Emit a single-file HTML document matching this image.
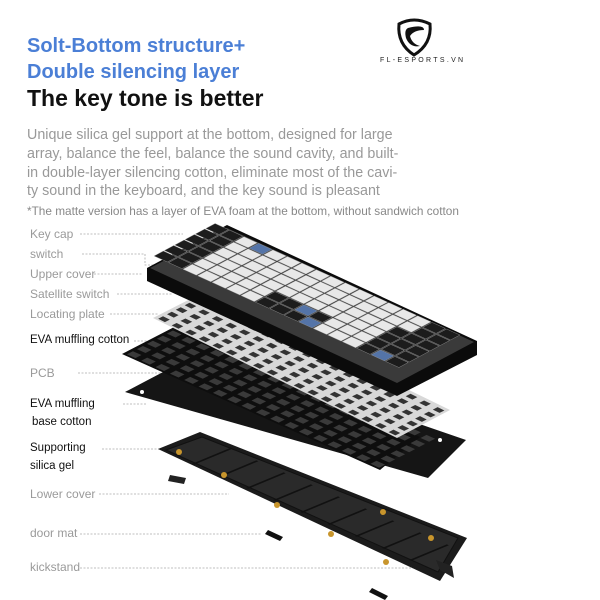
<!DOCTYPE html>
<html><head><meta charset="utf-8"><style>
html,body{margin:0;padding:0;background:#fff;}
#w{position:relative;width:600px;height:600px;overflow:hidden;font-family:"Liberation Sans",sans-serif;}
.t{position:absolute;white-space:nowrap;}
.lb{position:absolute;font-size:12px;color:#9a9a9a;white-space:nowrap;}
.lk{position:absolute;font-size:11.5px;color:#111;white-space:nowrap;}
</style></head><body><div id="w">
<div class="t" style="left:27px;top:33px;font-size:20px;font-weight:bold;color:#4b7fd6;line-height:26px;">Solt-Bottom structure+<br>Double silencing layer</div>
<div class="t" style="left:27px;top:85px;font-size:23px;font-weight:bold;color:#111;">The key tone is better</div>
<div class="t" style="left:27px;top:126px;font-size:14.3px;color:#999;line-height:18.8px;">Unique silica gel support at the bottom, designed for large<br>array, balance the feel, balance the sound cavity, and built-<br>in double-layer silencing cotton, eliminate most of the cavi-<br>ty sound in the keyboard, and the key sound is pleasant</div>
<div class="t" style="left:27px;top:204px;font-size:11.8px;color:#888;">*The matte version has a layer of EVA foam at the bottom, without sandwich cotton</div>
<div class="t" style="left:380px;top:57px;font-size:7px;letter-spacing:2.3px;color:#222;">FL-ESPORTS.VN</div>

<div class="lb" style="left:30px;top:227px">Key cap</div>
<div class="lb" style="left:30px;top:247px">switch</div>
<div class="lb" style="left:30px;top:267px">Upper cover</div>
<div class="lb" style="left:30px;top:287px">Satellite switch</div>
<div class="lb" style="left:30px;top:307px">Locating plate</div>
<div class="lk" style="left:30px;top:334px">EVA muffling cotton</div>
<div class="lb" style="left:30px;top:366px">PCB</div>
<div class="lk" style="left:30px;top:398px">EVA muffling</div>
<div class="lk" style="left:32px;top:416px">base cotton</div>
<div class="lk" style="left:30px;top:442px">Supporting</div>
<div class="lk" style="left:30px;top:460px">silica gel</div>
<div class="lb" style="left:30px;top:487px">Lower cover</div>
<div class="lb" style="left:30px;top:526px">door mat</div>
<div class="lb" style="left:30px;top:560px">kickstand</div>

<svg id="s" width="600" height="600" style="position:absolute;left:0;top:0">
<path d="M399,24 Q414,16 430,24 Q432,44 414,55 Q397,44 399,24Z" fill="none" stroke="#111" stroke-width="3"/>
<path d="M408,28 Q424,24 424,30 Q414,30 410,36 Q412,44 420,46 Q410,48 406,38 Q404,30 408,28Z" fill="#111"/>
<g stroke="#aaa" stroke-width="0.8" stroke-dasharray="2,1.5" fill="none">
<line x1="80" y1="234" x2="183" y2="234"/>
<polyline points="82,254 145,254 145,265 160,265"/>
<line x1="94" y1="274" x2="142" y2="274"/>
<line x1="117" y1="294" x2="173" y2="294"/>
<line x1="110" y1="314" x2="158" y2="314"/>
<line x1="134" y1="341" x2="160" y2="341"/>
<line x1="78" y1="373" x2="192" y2="373"/>
<line x1="123" y1="404" x2="146" y2="404"/>
<line x1="102" y1="449" x2="160" y2="449"/>
<line x1="99" y1="494" x2="229" y2="494"/>
<line x1="80" y1="534" x2="262" y2="534"/>
<line x1="80" y1="568" x2="450" y2="568"/>
</g>
<polygon points="158,449 200,432 467,538 440,581" fill="#1b1b1b"/>
<polygon points="166,450 202,437 458,538 438,572" fill="#2a2a2a" stroke="#111"/>
<g id="bc" stroke="#111" stroke-width="1.2"></g>
<g fill="#c8952c">
<circle cx="179" cy="452" r="3"/><circle cx="224" cy="475" r="3"/><circle cx="277" cy="505" r="3"/><circle cx="331" cy="534" r="3"/><circle cx="383" cy="512" r="3"/><circle cx="431" cy="538" r="3"/><circle cx="386" cy="562" r="3"/></g>
<polygon points="170,475 186,478 184,484 168,481" fill="#222"/>
<polygon points="268,530 283,537 280,541 265,534" fill="#111"/>
<polygon points="372,588 388,596 385,600 369,592" fill="#111"/>
<polygon points="436,560 452,566 454,578 440,570" fill="#222"/>
<polygon points="125,392 205,350 466,440 428,478" fill="#151515"/>
<g fill="#fff"><circle cx="142" cy="392" r="2"/><circle cx="190" cy="414" r="2"/><circle cx="440" cy="440" r="2"/><circle cx="404" cy="478" r="2"/></g>
<polygon id="pcb" points="122,354 182,323 420,437 380,470" fill="#0e0e0e"/>
<g id="ph" fill="#555"></g>
<polygon points="153,318 206,291 450,410 397,438" fill="#d8d8d8"/>
<g id="plh" fill="#444"></g>
<polygon points="147,268 227,225 477,341 477,355 397,396 147,281" fill="#0b0b0b"/>
<polygon points="150,268 227,228 474,342 397,383" fill="#3a3a3a"/>
<g id="keys"></g>
</svg>
<script>
function P(o,u,v,a,b){return [o[0]+u[0]*a+v[0]*b,o[1]+u[1]*a+v[1]*b];}
function quad(g,o,u,v,a,b,w,h,fill,stroke){
 var p=[P(o,u,v,a,b),P(o,u,v,a+w,b),P(o,u,v,a+w,b+h),P(o,u,v,a,b+h)];
 var e=document.createElementNS("http://www.w3.org/2000/svg","polygon");
 e.setAttribute("points",p.map(function(x){return x[0].toFixed(1)+","+x[1].toFixed(1)}).join(" "));
 e.setAttribute("fill",fill); if(stroke){e.setAttribute("stroke",stroke);e.setAttribute("stroke-width","0.4");}
 document.getElementById(g).appendChild(e);}
var o=[153,256],u=[246,112],v=[62,-33],N=17,M=6;
for(var j=0;j<M;j++)for(var i=0;i<N;i++){
 var c="#e8e8e8";
 if(i<2)c="#1c1c1c";
 if(j<=1&&i>=7&&i<=10)c="#1c1c1c";
 if(i>=14&&j<=3)c="#1c1c1c";
 if(i>=15&&j>=4)c="#1c1c1c";
 if((i==9&&j==1)||(i==10&&j==0)||(i==15&&j==0)||(i==3&&j==5))c="#5474a8";
 quad("keys",o,u,v,(i+0.04)/N,(j+0.05)/M,0.92/N,0.9/M,c,"#999");
}
var po=[153,318],pu=[244,120],pv=[53,-27];
for(var j=0;j<6;j++)for(var i=0;i<18;i++) quad("plh",po,pu,pv,(i+0.25)/18,(j+0.2)/6,0.5/18,0.55/6,"#333");
var qo=[122,354],qu=[258,116],qv=[60,-31];
for(var j=0;j<6;j++)for(var i=0;i<18;i++) quad("ph",qo,qu,qv,(i+0.2)/18,(j+0.2)/6,0.6/18,0.6/6,"#3a3a3a");
var bo=[166,452],bu=[272,120],bv=[36,-15];
for(var i=1;i<10;i++) quad("bc",bo,bu,bv,i/10,0,0.002,1,"#111");
</script>
</div></body></html>
